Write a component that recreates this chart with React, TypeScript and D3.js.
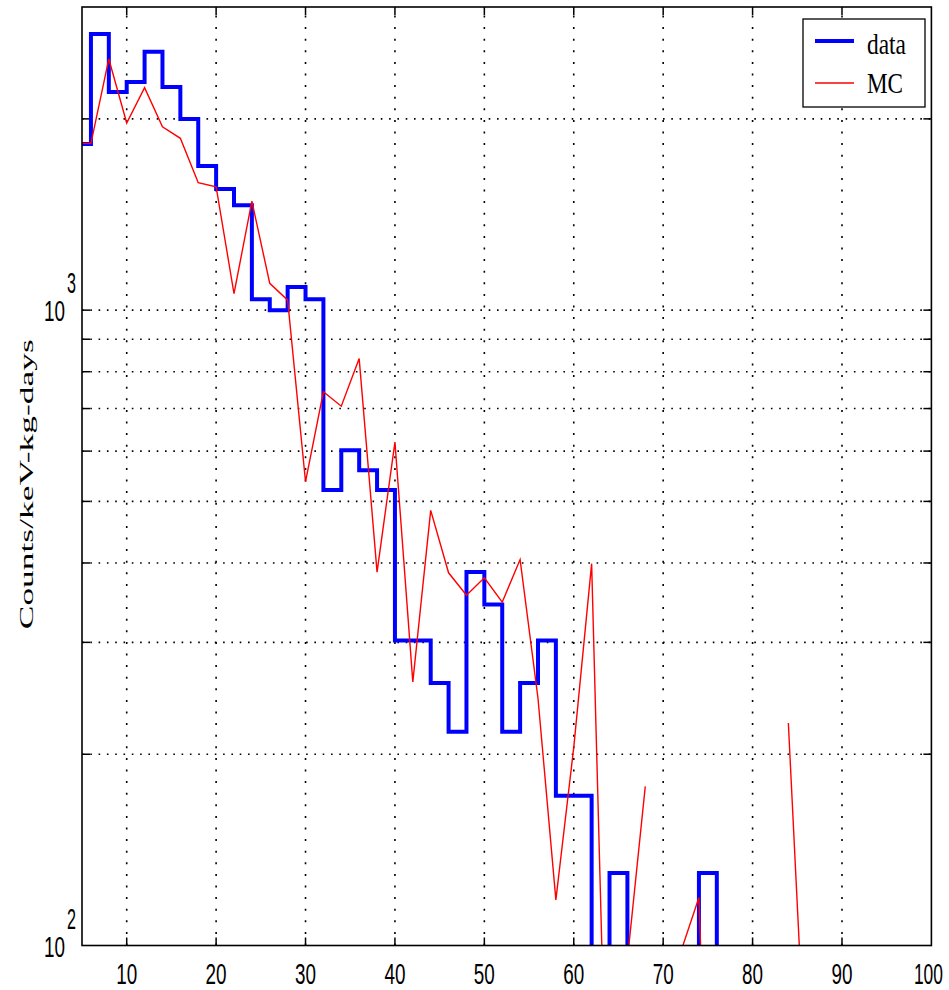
import React from "react";
import * as d3 from "d3";

const WIDTH = 949;
const HEIGHT = 990;

// bin lower edges (keV), 2 keV wide
const energy = [
  4, 6, 8, 10, 12, 14, 16, 18, 20, 22, 24, 26, 28, 30, 32, 34, 36, 38, 40, 42, 44, 46, 48, 50,
  52, 54, 56, 58, 60, 62, 64, 66, 68, 70, 72, 74, 76, 78, 80, 82, 84, 86, 88, 90, 92, 94, 96, 98,
];

// measured spectrum (stairs)
const dataCounts = [
  1826, 2720, 2205, 2286, 2550, 2245, 2000, 1686, 1551, 1463, 1040, 1000, 1087, 1040, 521, 602,
  560, 521, 302, 302, 259, 217, 387, 344, 217, 259, 302, 172, 172, 0, 130, 0, 0, 0, 0, 130, 0, 0,
  0, 0, 0, 0, 0, 0, 0, 0, 0, 0,
];

// Monte Carlo, one point per bin edge (null = nothing drawn)
const mcCounts: (number | null)[] = [
  1830, 1830, 2485, 1970, 2239, 1944, 1864, 1587, 1564, 1062, 1484, 1102, 1037, 537, 744, 706,
  839, 387, 620, 260, 484, 386, 356, 379, 347, 405, 245, 118, 205, 399, 35, 95, 178, null, 98,
  119, 18, null, null, null, 224, 60, null, null, null, null, null, null,
];

const xTicks = [10, 20, 30, 40, 50, 60, 70, 80, 90, 100];
const xGrid = [10, 20, 30, 40, 50, 60, 70, 80, 90];
const yGrid = [200, 300, 400, 500, 600, 700, 800, 900, 1000, 2000];
const yLabels = [
  { value: 100, exp: "2" },
  { value: 1000, exp: "3" },
];

const seriesNames = ["data", "MC"];
const seriesColors = ["#0000ff", "#ff0000"];

const FLOOR = 1; // where zero counts go (far below the axis, clipped)

export default function App() {
  const x = d3.scaleLinear().domain([5, 100]).range([82, 931.4]);
  const y = d3.scaleLog().domain([100, 3000]).range([945.5, 7]);
  const [x0, x1] = x.range();
  const [y0, y1] = y.range();
  const yv = (v: number) => (v > 0 ? y(v) : y(FLOOR));

  const stairPts: [number, number][] = energy.map((e, i) => [e, dataCounts[i]]);
  stairPts.push([100, dataCounts[dataCounts.length - 1]]);
  const stairLine = d3
    .line<[number, number]>()
    .x((d) => x(d[0]))
    .y((d) => yv(d[1]))
    .curve(d3.curveStepAfter);

  const mcPts = energy.map((e, i) => [e, mcCounts[i]] as [number, number | null]);
  const mcLine = d3
    .line<[number, number | null]>()
    .defined((d) => d[1] != null)
    .x((d) => x(d[0]))
    .y((d) => yv(d[1] as number));

  const tickLen = 8;
  const sans = "'Liberation Sans', Arial, sans-serif";
  const serif = "'Liberation Serif', 'Times New Roman', serif";

  return (
    <svg
      width={WIDTH}
      height={HEIGHT}
      style={{ position: "absolute", left: 0, top: 0, background: "#fff" }}
    >
      <defs>
        <clipPath id="plot">
          <rect x={x0} y={y1} width={x1 - x0} height={y0 - y1} />
        </clipPath>
      </defs>
      <rect width={WIDTH} height={HEIGHT} fill="#fff" />

      {/* grid */}
      <g stroke="#000" strokeWidth={1.6} fill="none">
        {xGrid.map((t) => (
          <line key={"gx" + t} x1={x(t)} x2={x(t)} y1={y0} y2={y1} strokeDasharray="2 9.6" />
        ))}
        {yGrid.map((t) => (
          <line key={"gy" + t} x1={x0} x2={x1} y1={y(t)} y2={y(t)} strokeDasharray="1.6 6.7" />
        ))}
      </g>

      {/* ticks */}
      <g stroke="#000" strokeWidth={1.5}>
        {xGrid.map((t) => (
          <g key={"tx" + t}>
            <line x1={x(t)} x2={x(t)} y1={y0} y2={y0 - tickLen} />
            <line x1={x(t)} x2={x(t)} y1={y1} y2={y1 + tickLen} />
          </g>
        ))}
        {yGrid.map((t) => (
          <g key={"ty" + t}>
            <line x1={x0} x2={x0 + tickLen} y1={y(t)} y2={y(t)} />
            <line x1={x1} x2={x1 - tickLen} y1={y(t)} y2={y(t)} />
          </g>
        ))}
      </g>

      {/* series */}
      <g clipPath="url(#plot)" fill="none">
        <path d={stairLine(stairPts) || ""} stroke={seriesColors[0]} strokeWidth={4} />
        <path d={mcLine(mcPts) || ""} stroke={seriesColors[1]} strokeWidth={1.4} />
      </g>

      {/* frame */}
      <rect x={x0} y={y1} width={x1 - x0} height={y0 - y1} fill="none" stroke="#000" strokeWidth={1.6} />

      {/* x tick labels */}
      <g fontFamily={sans} fontSize={29} fill="#000" textAnchor="middle">
        {xTicks.map((t) => (
          <text
            key={"lx" + t}
            x={t >= 100 ? x(t) - 3 : x(t)}
            y={984}
            textLength={t >= 100 ? 29 : 21}
            lengthAdjust="spacingAndGlyphs"
          >
            {t}
          </text>
        ))}
      </g>

      {/* y tick labels (10^n) */}
      <g fontFamily={sans} fontSize={29} fill="#000">
        {yLabels.map((l) => (
          <g key={"ly" + l.value}>
            <text x={65} y={y(l.value) + 11} textAnchor="end" textLength={21} lengthAdjust="spacingAndGlyphs">
              10
            </text>
            <text x={67} y={y(l.value) - 17} textLength={9} lengthAdjust="spacingAndGlyphs">
              {l.exp}
            </text>
          </g>
        ))}
      </g>

      {/* y axis label */}
      <text
        transform={`translate(33, ${(y0 + y1) / 2 + 8}) rotate(-90)`}
        textAnchor="middle"
        fontFamily={serif}
        fontSize={19}
        textLength={290}
        lengthAdjust="spacingAndGlyphs"
        fill="#000"
      >
        Counts/keV-kg-days
      </text>

      {/* legend */}
      <g>
        <rect x={803} y={19} width={122} height={88} fill="#fff" stroke="#000" strokeWidth={1.3} />
        {seriesNames.map((name, i) => (
          <g key={name}>
            <line
              x1={815}
              x2={854}
              y1={41 + i * 42}
              y2={41 + i * 42}
              stroke={seriesColors[i]}
              strokeWidth={i === 0 ? 4 : 1.4}
            />
            <text
              x={867}
              y={54 + i * 39}
              fontFamily={serif}
              fontSize={29}
              textLength={i === 0 ? 39 : 36}
              lengthAdjust="spacingAndGlyphs"
              fill="#000"
            >
              {name}
            </text>
          </g>
        ))}
      </g>
    </svg>
  );
}
